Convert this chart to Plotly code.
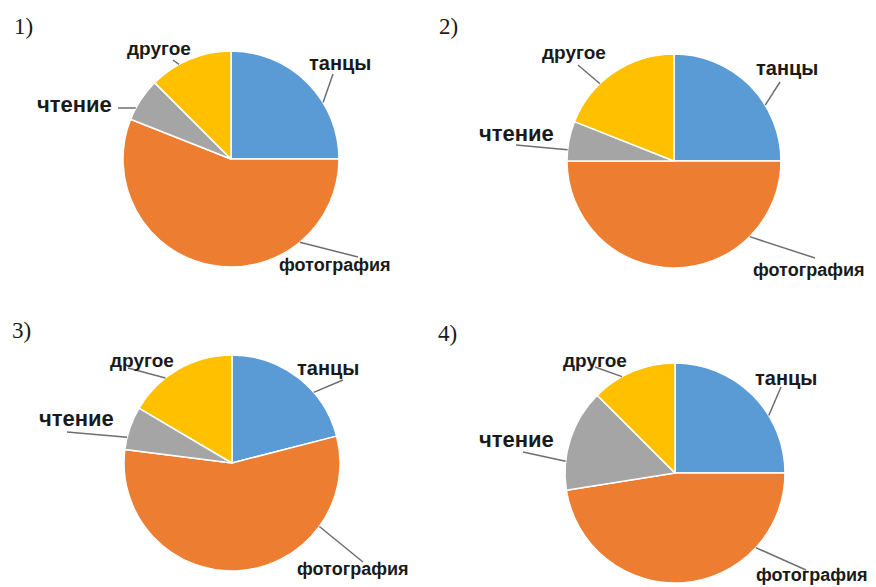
import math
import plotly.graph_objects as go

# ---------------- data ----------------
categories = ["танцы", "фотография", "чтение", "другое"]
pie1_values = [25, 56, 6.5, 12.5]
pie2_values = [25, 50, 6, 19]
pie3_values = [21, 56, 6.5, 16.5]
pie4_values = [25, 47.5, 15, 12.5]
panel_titles = ["1)", "2)", "3)", "4)"]

# ---------------- styling / layout ----------------
W, H = 876, 587
OFF = 8  # page body margin
colors = ["#5B9BD5", "#ED7D31", "#A5A5A5", "#FFC000"]
label_font_sizes = [20, 18, 22, 19]
pie_centers = [(231, 159), (674, 161), (232, 463), (675, 473)]
pie_radii = [108, 107, 108, 110]
title_pos = [(23, 26), (448, 26), (21, 330), (447, 333)]
# where along each slice the leader line touches (fraction of the slice)
leader_frac = [0.65, 0.25, 0.28, 0.36]
# label text centres and leader-line outer ends (pixels in the window)
label_text_pos = [
    [(340, 63), (334, 265), (74, 104), (159, 48)],
    [(787, 68), (808, 270), (516, 134), (574, 52)],
    [(328, 368), (352, 569), (76, 418), (142, 360)],
    [(786, 378), (811, 575), (517, 439), (595, 360)],
]
label_line_end = [
    [(333, 74), (358, 257), (118, 108), (173, 60)],
    [(780, 82), (815, 258), (516, 145), (578, 65)],
    [(343, 380), (363, 562), (67, 432), (128, 368)],
    [(781, 387), (806, 570), (523, 452), (595, 367)],
]

all_values = [pie1_values, pie2_values, pie3_values, pie4_values]


def px(x):
    return (x - OFF) / W


def py(y):
    return 1 - (y - OFF) / H


fig = go.Figure()
annotations = []
shapes = []

for i, vals in enumerate(all_values):
    cx, cy = pie_centers[i]
    r = pie_radii[i]
    fig.add_trace(go.Pie(
        labels=categories,
        values=vals,
        sort=False,
        direction="clockwise",
        rotation=0,
        textinfo="none",
        hoverinfo="label+value",
        marker=dict(colors=colors, line=dict(color="white", width=1.5)),
        domain=dict(x=[px(cx - r), px(cx + r)], y=[py(cy + r), py(cy - r)]),
        showlegend=False,
    ))
    total = sum(vals)
    start = 0.0
    for j, v in enumerate(vals):
        span = 360.0 * v / total
        theta = math.radians(start + leader_frac[j] * span)
        ax_ = cx + r * math.sin(theta)
        ay_ = cy - r * math.cos(theta)
        ex, ey = label_line_end[i][j]
        shapes.append(dict(type="line", xref="paper", yref="paper",
                           x0=px(ax_), y0=py(ay_), x1=px(ex), y1=py(ey),
                           line=dict(color="#6e6e6e", width=1.5)))
        tx, ty = label_text_pos[i][j]
        annotations.append(dict(x=px(tx), y=py(ty), xref="paper", yref="paper",
                                text="<b>%s</b>" % categories[j], showarrow=False,
                                xanchor="center", yanchor="middle",
                                font=dict(family="Liberation Sans, Arial, sans-serif",
                                          size=label_font_sizes[j], color="#1a1a1a")))
        start += span
    tx, ty = title_pos[i]
    annotations.append(dict(x=px(tx), y=py(ty), xref="paper", yref="paper",
                            text=panel_titles[i], showarrow=False,
                            xanchor="center", yanchor="middle",
                            font=dict(family="Liberation Serif, Times New Roman, serif",
                                      size=23, color="#1a1a1a")))

fig.update_layout(
    width=W, height=H,
    margin=dict(l=0, r=0, t=0, b=0),
    paper_bgcolor="white", plot_bgcolor="white",
    annotations=annotations, shapes=shapes,
)

fig.write_html("out.html")
